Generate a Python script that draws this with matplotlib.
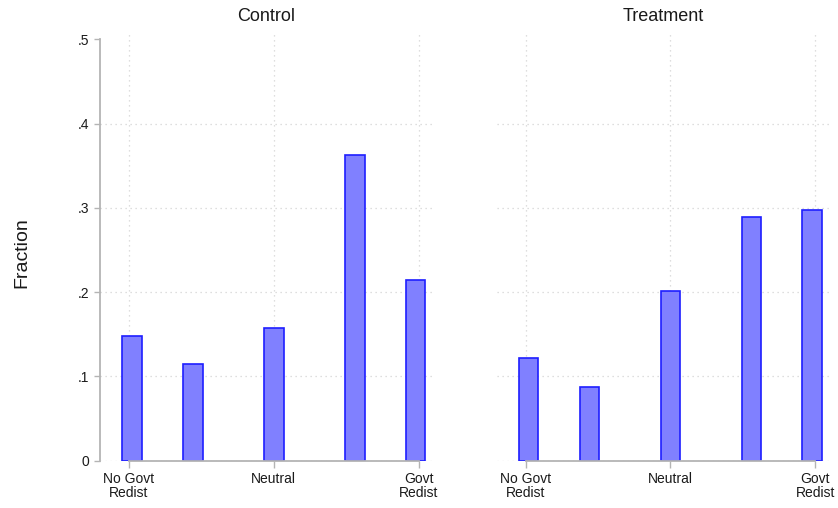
import numpy as np
import matplotlib.pyplot as plt
from matplotlib.ticker import FixedLocator, FixedFormatter

plt.rcParams['font.family'] = ['Liberation Sans', 'DejaVu Sans']

# Response scale positions (0 = no govt redistribution, 10 = govt redistribution)
response = [0.1, 2.2, 5.0, 7.8, 9.9]
control_frac = [0.148, 0.115, 0.157, 0.363, 0.214]
treatment_frac = [0.122, 0.087, 0.201, 0.289, 0.298]

panels = ['Control', 'Treatment']
x_ticks = [0, 5, 10]
x_labels = ['No Govt\nRedist', 'Neutral', 'Govt\nRedist']
y_ticks = [0, 0.1, 0.2, 0.3, 0.4, 0.5]
y_labels = ['0', '.1', '.2', '.3', '.4', '.5']

W, H = 838, 508
fig = plt.figure(figsize=(W / 100, H / 100), dpi=100)

bar_fill = '#8080ff'
bar_edge = '#1e1eff'
axis_col = '#b4b4b4'
grid_col = '#d4d4d4'

lefts = [100, 496.7]
axes = []
for i, (name, vals) in enumerate(zip(panels, [control_frac, treatment_frac])):
    ax = fig.add_axes([lefts[i] / W, (H - 460.5) / H, 333 / W, (460.5 - 31) / H])
    ax.bar(response, vals, width=0.68, color=bar_fill, edgecolor=bar_edge,
           linewidth=1.2, zorder=3)
    ax.set_xlim(-1.0, 10.5)
    ax.set_ylim(0, 0.51)

    # dotted grid, Stata style (no line at the top label)
    for yv in y_ticks[:-1]:
        ax.axhline(yv, color=grid_col, lw=0.9, ls=(0, (1, 3)), zorder=1)
    for xv in x_ticks:
        ax.axvline(xv, color=grid_col, lw=0.9, ls=(0, (1, 3)), zorder=1)

    for s in ['top', 'right']:
        ax.spines[s].set_visible(False)
    ax.spines['bottom'].set_bounds(0, 10)
    ax.spines['bottom'].set_color(axis_col)
    ax.spines['bottom'].set_linewidth(1.3)
    ax.spines['bottom'].set_zorder(4)

    ax.xaxis.set_major_locator(FixedLocator(x_ticks))
    ax.xaxis.set_major_formatter(FixedFormatter(x_labels))
    ax.tick_params(axis='x', length=5, width=1.0, color=axis_col, pad=3.5,
                   labelsize=10, labelcolor='#1a1a1a')
    for lbl in ax.get_xticklabels():
        lbl.set_linespacing(1.0)

    if i == 0:
        ax.spines['left'].set_bounds(0, 0.5)
        ax.spines['left'].set_color(axis_col)
        ax.spines['left'].set_linewidth(1.3)
        ax.yaxis.set_major_locator(FixedLocator(y_ticks))
        ax.yaxis.set_major_formatter(FixedFormatter(y_labels))
        ax.tick_params(axis='y', length=4, width=1.0, color=axis_col, pad=4,
                       labelsize=10, labelcolor='#1a1a1a')
    else:
        ax.spines['left'].set_visible(False)
        ax.set_yticks([])

    fig.text((lefts[i] + 166.5) / W, 1 - 16.5 / H, name, ha='center', va='center',
             fontsize=13, color='#1a1a1a')
    axes.append(ax)

fig.text(22 / W, 1 - 253 / H, 'Fraction', rotation=90, ha='center', va='center',
         fontsize=14, color='#1a1a1a')

fig.savefig('out.png', dpi=100, facecolor='white')
